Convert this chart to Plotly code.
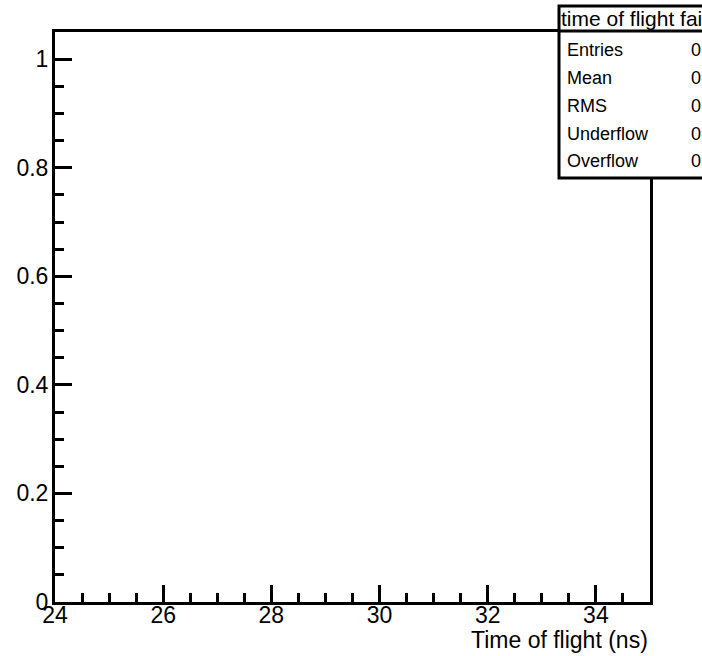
import plotly.graph_objects as go

# ---- data ----
bin_centers = [24.5, 25.5, 26.5, 27.5, 28.5, 29.5, 30.5, 31.5, 32.5, 33.5, 34.5]
bin_counts = [0, 0, 0, 0, 0, 0, 0, 0, 0, 0, 0]
x_range = [24, 35]
y_range = [0, 1.05]
x_title = "Time of flight (ns)"
stats_title = "time of flight fails"
stats_labels = ["Entries", "Mean", "RMS", "Underflow", "Overflow"]
stats_values = ["0", "0", "0", "0", "0"]

W, H = 702, 656
L, R, T, B = 55, 52, 32, 54
FONT = "Liberation Sans, Arial, Helvetica, sans-serif"


def px(x):
    return (x - L) / (W - L - R)


def py(y):
    return (H - B - y) / (H - T - B)


fig = go.Figure()
fig.add_trace(go.Bar(x=bin_centers, y=bin_counts, width=1.0,
                     marker=dict(color="rgba(0,0,0,0)", line=dict(width=0)),
                     showlegend=False, hoverinfo="skip"))

fig.update_layout(
    width=W, height=H,
    margin=dict(l=L, r=R, t=T, b=B, pad=0),
    paper_bgcolor="white", plot_bgcolor="white",
    font=dict(family=FONT, color="black"),
    showlegend=False,
)
fig.update_xaxes(
    range=x_range, autorange=False, showgrid=False, zeroline=False,
    showline=True, linewidth=3, linecolor="black", mirror=True,
    ticks="inside", ticklen=17, tickwidth=3, tickcolor="black",
    tick0=24, dtick=2, tickfont=dict(size=23, family=FONT),
    ticklabelstandoff=-10,
    minor=dict(ticks="inside", ticklen=9, tickwidth=3, tickcolor="black", dtick=0.5, showgrid=False),
)
fig.update_yaxes(
    range=y_range, autorange=False, showgrid=False, zeroline=False,
    showline=True, linewidth=3, linecolor="black", mirror=True,
    ticks="inside", ticklen=17, tickwidth=3, tickcolor="black",
    tick0=0, dtick=0.2, tickfont=dict(size=23, family=FONT),
    tickformat="~g", ticklabelstandoff=-1,
    minor=dict(ticks="inside", ticklen=9, tickwidth=3, tickcolor="black", dtick=0.05, showgrid=False),
)

annotations = []
annotations.append(dict(text=x_title, xref="paper", yref="paper", x=px(650), y=py(640),
                        xanchor="right", yanchor="middle", showarrow=False,
                        font=dict(size=23, family=FONT, color="black")))

shapes = []
# stats box
shapes.append(dict(type="rect", xref="paper", yref="paper",
                   x0=px(559), x1=px(740), y0=py(178), y1=py(6),
                   line=dict(color="black", width=3), fillcolor="white", layer="above"))
shapes.append(dict(type="line", xref="paper", yref="paper",
                   x0=px(559), x1=px(740), y0=py(31), y1=py(31),
                   line=dict(color="black", width=3), layer="above"))

annotations.append(dict(text=stats_title, xref="paper", yref="paper", x=px(559), y=py(19),
                        xanchor="left", yanchor="middle", showarrow=False,
                        font=dict(size=21, family=FONT, color="black")))
row_y = [50, 78, 106, 134, 161]
for lab, val, yy in zip(stats_labels, stats_values, row_y):
    annotations.append(dict(text=lab, xref="paper", yref="paper", x=px(565), y=py(yy),
                            xanchor="left", yanchor="middle", showarrow=False,
                            font=dict(size=18, family=FONT, color="black")))
    annotations.append(dict(text=val, xref="paper", yref="paper", x=px(689), y=py(yy),
                            xanchor="left", yanchor="middle", showarrow=False,
                            font=dict(size=18, family=FONT, color="black")))

fig.update_layout(shapes=shapes, annotations=annotations)
fig.write_html("out.html", config={"displayModeBar": False},
               post_script="document.body.style.margin='0';document.body.style.overflow='hidden';")
